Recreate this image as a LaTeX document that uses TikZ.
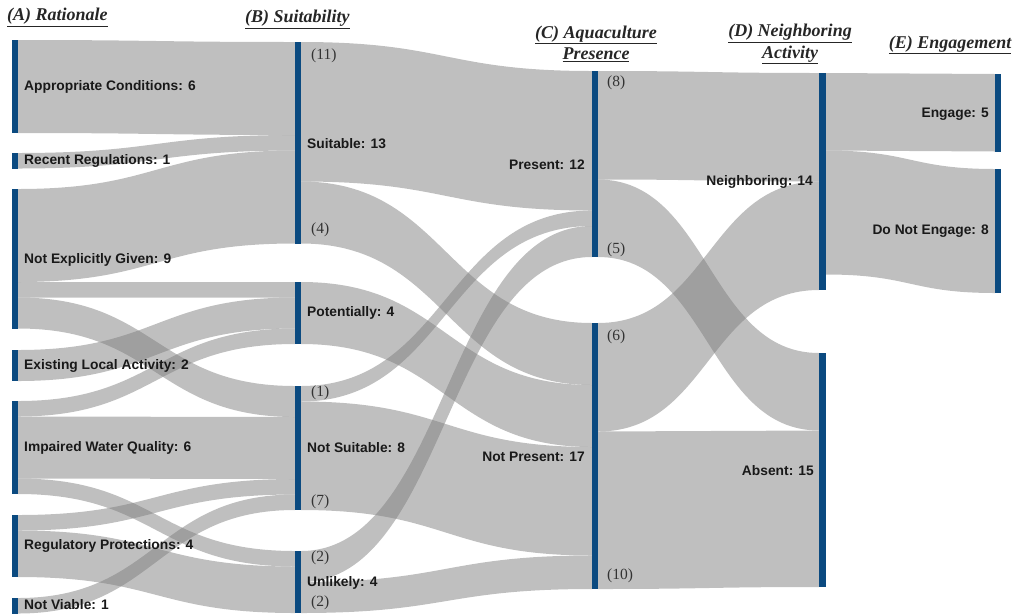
\documentclass[tikz,border=0pt]{standalone}
\usepackage{fontspec}
\setmainfont{Liberation Serif}
\newfontfamily\labfont{Liberation Sans}
\definecolor{barblue}{HTML}{0B4A80}
\newcommand{\sflow}[6]{%
  \fill[flowfill] (#1,#2) .. controls ({(#1+#4)/2},#2) and ({(#1+#4)/2},#5) .. (#4,#5)
    -- (#4,#6) .. controls ({(#1+#4)/2},#6) and ({(#1+#4)/2},#3) .. (#1,#3) -- cycle;}
\tikzset{
  flowfill/.style={fill=black!50, fill opacity=0.5},
  barnode/.style={rectangle, fill=barblue, draw=none, inner sep=0pt, minimum width=6pt},
  lab/.style={font=\labfont\bfseries\fontsize{13.8}{16}\selectfont, inner sep=0pt, text=black!90},
  num/.style={font=\fontsize{15.5}{17}\selectfont, inner sep=0pt, text=black!80},
  head/.style={font=\bfseries\itshape\fontsize{18}{21.5}\selectfont, inner sep=0pt, align=center, text=black!85}
}
\begin{document}
\begin{tikzpicture}[x=1pt,y=-1pt]
\useasboundingbox (0,0) rectangle (1019,614);
% ---------- flows A -> B
\sflow{18}{40}{133}{295}{42}{135}
\sflow{18}{153}{168.5}{295}{135}{150.5}
\sflow{18}{189}{282}{295}{150.5}{243.5}
\sflow{18}{282}{297.5}{295}{282}{297.5}
\sflow{18}{297.5}{328.5}{295}{386}{417}
\sflow{18}{350}{381}{295}{297.5}{328.5}
\sflow{18}{401}{416.5}{295}{328.5}{344}
\sflow{18}{416.5}{478.5}{295}{417}{479}
\sflow{18}{478.5}{494}{295}{551}{566.5}
\sflow{18}{515}{530.5}{295}{479}{494.5}
\sflow{18}{530.5}{577}{295}{566.5}{613}
\sflow{18}{598}{613.5}{295}{494.5}{510}
% ---------- flows B -> C
\sflow{301}{42}{181.5}{592}{71}{210.5}
\sflow{301}{181.5}{243.5}{592}{323}{385}
\sflow{301}{282}{344}{592}{385}{447}
\sflow{301}{386}{401.5}{592}{210.5}{226}
\sflow{301}{401.5}{510}{592}{447}{555.5}
\sflow{301}{551}{582}{592}{226}{257}
\sflow{301}{582}{613}{592}{555.5}{589}
% ---------- flows C -> D
\sflow{598}{71}{179.5}{819}{73}{181.5}
\sflow{598}{179.5}{257}{819}{353}{430.5}
\sflow{598}{323}{431.5}{819}{181.5}{290}
\sflow{598}{431.5}{589}{819}{430.5}{587}
% ---------- flows D -> E
\sflow{826}{73}{150.5}{995}{74}{151.5}
\sflow{826}{150.5}{274.5}{995}{169}{293}
% ---------- bars
\node[barnode, minimum height=93pt] (ac) at (15,86.5) {};
\node[barnode, minimum height=15.5pt] (rr) at (15,160.75) {};
\node[barnode, minimum height=139.5pt] (neg) at (15,258.75) {};
\node[barnode, minimum height=31pt] (ela) at (15,365.5) {};
\node[barnode, minimum height=93pt] (iwq) at (15,447.5) {};
\node[barnode, minimum height=62pt] (rp) at (15,546) {};
\node[barnode, minimum height=15.5pt] (nv) at (15,605.75) {};
\node[barnode, minimum height=201.5pt] (su) at (298,142.75) {};
\node[barnode, minimum height=62pt] (po) at (298,313) {};
\node[barnode, minimum height=124pt] (ns) at (298,448) {};
\node[barnode, minimum height=62pt] (un) at (298,582) {};
\node[barnode, minimum height=186pt] (pr) at (595,164) {};
\node[barnode, minimum height=266pt] (np) at (595,456) {};
\node[barnode, minimum height=217pt, minimum width=7pt] (nb) at (822.5,181.5) {};
\node[barnode, minimum height=234pt, minimum width=7pt] (ab) at (822.5,470) {};
\node[barnode, minimum height=77.5pt] (en) at (998,112.75) {};
\node[barnode, minimum height=124pt] (dne) at (998,231) {};
% ---------- headers
\node[head, anchor=base west] (ha) at (7,20.5) {\underline{(A) Rationale}};
\node[head, anchor=base west] (hb) at (245,22.5) {\underline{(B) Suitability}};
\node[head] (hc) at (596,44) {\underline{(C) Aquaculture}\\\underline{Presence}};
\node[head] (hd) at (790,44) {\underline{(D) Neighboring}\\\underline{Activity}};
\node[head, anchor=base] (he) at (950,48) {\underline{(E) Engagement}};
% ---------- labels
\node[lab, anchor=west] (lac) at (24,87) {Appropriate Conditions: 6};
\node[lab, anchor=west] (lrr) at (24,161) {Recent Regulations: 1};
\node[lab, anchor=west] (lneg) at (24,260) {Not Explicitly Given: 9};
\node[lab, anchor=west] (lela) at (24,366) {Existing Local Activity: 2};
\node[lab, anchor=west] (liwq) at (24,448) {Impaired Water Quality: 6};
\node[lab, anchor=west] (lrp) at (24,546) {Regulatory Protections: 4};
\node[lab, anchor=west] (lnv) at (24,605) {Not Viable: 1};
\node[lab, anchor=west] (lsu) at (307,144) {Suitable: 13};
\node[lab, anchor=west] (lpo) at (307,313) {Potentially: 4};
\node[lab, anchor=west] (lns) at (307,448) {Not Suitable: 8};
\node[lab, anchor=west] (lun) at (307,583) {Unlikely: 4};
\node[lab, anchor=east] (lpr) at (585,165) {Present: 12};
\node[lab, anchor=east] (lnp) at (585,457) {Not Present: 17};
\node[lab, anchor=east] (lnb) at (813,182) {Neighboring: 14};
\node[lab, anchor=east] (lab) at (814,471) {Absent: 15};
\node[lab, anchor=east] (len) at (989,114) {Engage: 5};
\node[lab, anchor=east] (ldne) at (989,231) {Do Not Engage: 8};
% ---------- counts
\node[num, anchor=west] (n11) at (311,56) {(11)};
\node[num, anchor=west] (n4) at (311,230) {(4)};
\node[num, anchor=west] (n1) at (311,393) {(1)};
\node[num, anchor=west] (n7) at (311,502) {(7)};
\node[num, anchor=west] (n2a) at (311,558) {(2)};
\node[num, anchor=west] (n2b) at (311,603) {(2)};
\node[num, anchor=west] (n8) at (607,83) {(8)};
\node[num, anchor=west] (n5) at (607,250) {(5)};
\node[num, anchor=west] (n6) at (607,337) {(6)};
\node[num, anchor=west] (n10) at (607,576) {(10)};
\end{tikzpicture}
\end{document}
